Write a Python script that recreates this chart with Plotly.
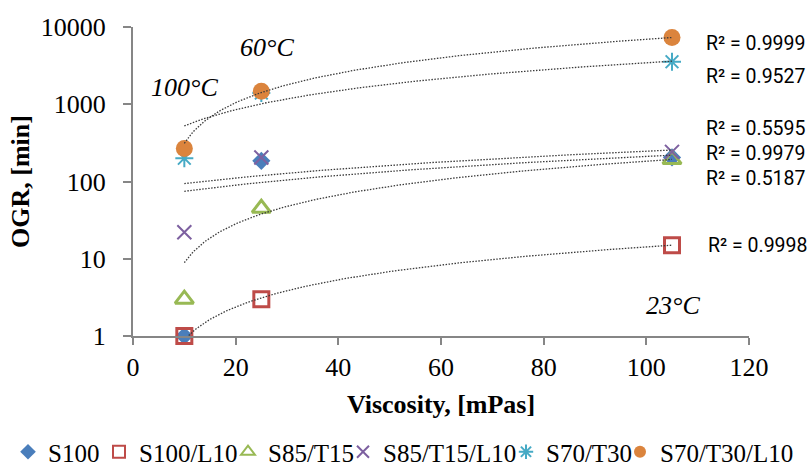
import numpy as np
import plotly.graph_objects as go

# ---------------- data ----------------
viscosity = [10, 25, 105]
series_names = ["S100", "S100/L10", "S85/T15", "S85/T15/L10", "S70/T30", "S70/T30/L10"]
s100 = [1, 185, 205]
s100_l10 = [1, 3, 15]
s85_t15 = [3, 45, 192]
s85_t15_l10 = [22, 205, 242]
s70_t30 = [200, 1400, 3550]
s70_t30_l10 = [268, 1470, 7300]
r2_by_series = {
    "S100": "R² = 0.5187",
    "S100/L10": "R² = 0.9998",
    "S85/T15": "R² = 0.9979",
    "S85/T15/L10": "R² = 0.5595",
    "S70/T30": "R² = 0.9527",
    "S70/T30/L10": "R² = 0.9999",
}
y_ticks = [1, 10, 100, 1000, 10000]
x_ticks = [0, 20, 40, 60, 80, 100, 120]
temp_labels = ["60°C", "100°C", "23°C"]

values = [s100, s100_l10, s85_t15, s85_t15_l10, s70_t30, s70_t30_l10]

# ---------------- style ----------------
W, H = 810, 466
L, R, T, B = 133, 61, 27, 130
serif = "Liberation Serif"
axis_col = "#868686"

styles = [
    dict(symbol="diamond", color="#4A7EBB", size=14, line=dict(width=0)),
    dict(symbol="square-open", color="#BE4B48", size=15, line=dict(width=3, color="#BE4B48")),
    dict(symbol="triangle-up-open", color="#98B954", size=16, line=dict(width=3, color="#98B954")),
    dict(symbol="x-thin-open", color="#7D60A0", size=14, line=dict(width=2, color="#7D60A0")),
    dict(symbol="asterisk-open", color="#46AAC5", size=15, line=dict(width=2, color="#46AAC5")),
    dict(symbol="circle", color="#DB843D", size=17, line=dict(width=0)),
]

# legend text starts (pixels) from the reference
legend_text_x = [50, 141, 270, 385, 548, 662]
legend_ids = ["legend", "legend2", "legend3", "legend4", "legend5", "legend6"]

fig = go.Figure()

for name, vals, st, lid in zip(series_names, values, styles, legend_ids):
    fig.add_trace(go.Scatter(
        x=viscosity, y=vals, mode="markers", name=name,
        marker=st, legend=lid, cliponaxis=False,
    ))

# linear trendlines (Excel style) computed from data
xs = np.linspace(viscosity[0], viscosity[-1], 200)
for name, vals in zip(series_names, values):
    a, b = np.polyfit(viscosity, vals, 1)
    ys = a * xs + b
    fig.add_trace(go.Scatter(
        x=xs, y=ys, mode="lines", showlegend=False, hoverinfo="skip",
        line=dict(color="#3a3a3a", width=1.3, dash="1.5px,1.5px"),
    ))

# helpers pixel -> paper
def px_x(p):
    return (p - L) / (W - L - R)

def px_y(p):
    return (H - B - p) / (H - T - B)

# R² labels (pixel positions of text centres)
r2_pos = {
    "S70/T30/L10": 43,
    "S70/T30": 77,
    "S85/T15/L10": 128,
    "S85/T15": 153,
    "S100": 178,
    "S100/L10": 245,
}
for name in series_names:
    xp = 704 if name != "S100/L10" else 706
    fig.add_annotation(
        x=px_x(xp), y=px_y(r2_pos[name]), xref="paper", yref="paper",
        text=r2_by_series[name], showarrow=False, xanchor="left", yanchor="middle",
        font=dict(family="Roboto", size=19.5, color="#000"),
    )

# temperature labels
temp_pos = [(267, 47), (184, 87), (673, 305)]
for txt, (xp, yp) in zip(temp_labels, temp_pos):
    fig.add_annotation(
        x=px_x(xp), y=px_y(yp), xref="paper", yref="paper",
        text=f"<i>{txt}</i>", showarrow=False, xanchor="center", yanchor="middle",
        font=dict(family=serif, size=26, color="#000"),
    )

layout_legends = {}
for lid, tx in zip(legend_ids, legend_text_x):
    layout_legends[lid] = dict(
        x=(tx - 42) / W, xref="container", xanchor="left",
        y=1 - 452 / H, yref="container", yanchor="middle",
        font=dict(family=serif, size=25, color="#000"),
        bgcolor="rgba(0,0,0,0)", borderwidth=0, itemwidth=30,
        orientation="h", itemsizing="constant",
    )

fig.update_layout(
    width=W, height=H,
    margin=dict(l=L, r=R, t=T, b=B),
    paper_bgcolor="white", plot_bgcolor="white",
    font=dict(family=serif, size=26, color="#000"),
    **layout_legends,
)

fig.update_xaxes(
    range=[0, 120], tickvals=x_ticks, ticktext=[str(v) for v in x_ticks],
    showgrid=False, zeroline=False, showline=True, linecolor=axis_col, linewidth=2,
    ticks="outside", ticklen=7, tickwidth=2, tickcolor=axis_col,
    tickfont=dict(family=serif, size=26, color="#000"),
    title=dict(text="<b>Viscosity, [mPas]</b>", font=dict(family=serif, size=26, color="#000"), standoff=14),
    automargin=False,
)
fig.update_yaxes(
    type="log", range=[0, 4], tickvals=y_ticks, ticktext=[str(v) for v in y_ticks],
    showgrid=False, zeroline=False, showline=True, linecolor=axis_col, linewidth=2,
    ticks="outside", ticklen=8, tickwidth=2, tickcolor=axis_col,
    tickfont=dict(family=serif, size=26, color="#000"),
    ticklabelstandoff=12,
    title=dict(text="<b>OGR, [min]</b>", font=dict(family=serif, size=26, color="#000"), standoff=4),
    automargin=False,
)

fig.write_html(
    "out.html",
    config={"displayModeBar": False},
    post_script="document.body.style.margin='0px';document.body.style.padding='0px';document.body.style.overflow='hidden';",
)
